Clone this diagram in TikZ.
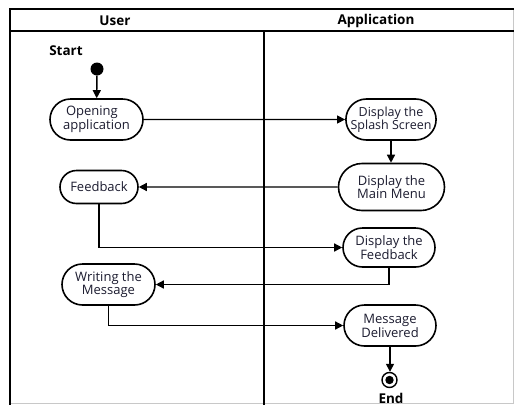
\documentclass[tikz,border=0pt]{standalone}
\usepackage{fontspec}
\setmainfont{Open Sans}
\usetikzlibrary{arrows.meta,shapes.misc}
\definecolor{txt}{RGB}{28,28,48}
\definecolor{edge}{RGB}{200,200,200}
\begin{document}
\begin{tikzpicture}[x=1pt,y=-1pt,
  lane/.style={line width=2.6pt,black},
  thin/.style={line width=0.8pt,edge},
  act/.style={rounded rectangle,draw=black,line width=1.6pt,fill=white,
    align=center,inner sep=0pt,text=txt,
    font=\fontsize{13}{12.5}\selectfont},
  flow/.style={line width=1.4pt,-{Triangle[length=8pt,width=8pt]}},
  lbl/.style={font=\bfseries\fontsize{13.5}{14}\selectfont,text=black}]
\useasboundingbox (0,0) rectangle (514,405);

% swimlane frame
\draw[thin] (513,9) -- (513,403) -- (10,403);
\draw[lane] (10,9) -- (514,9);
\draw[lane] (10,31) -- (514,31);
\draw[lane] (10,8) -- (10,405);
\draw[lane] (264,31) -- (264,405);
\node[lbl] (hUser) at (115,21) {User};
\node[lbl] (hApp) at (376,21) {Application};

% start
\node[lbl] (startlbl) at (66,51) {Start};
\node[circle,fill=black,minimum size=13pt,inner sep=0pt] (start) at (97,69) {};

% activities
\node[act,minimum width=93pt,minimum height=41pt,align=left] (open) at (96.5,119.5) {\hspace*{3pt}Opening\\application};
\node[act,minimum width=87pt,minimum height=41pt,font=\fontsize{12.5}{12}\selectfont] (splash) at (391,119.5) {Display the\\Splash Screen};
\node[act,minimum width=106pt,minimum height=47pt] (menu) at (391.5,187) {Display the\\Main Menu};
\node[act,minimum width=78pt,minimum height=33pt] (fb) at (99,187) {Feedback};
\node[act,minimum width=92pt,minimum height=39pt] (dfb) at (389,247.5) {Display the\\Feedback};
\node[act,minimum width=93pt,minimum height=41pt] (write) at (108.5,284.5) {Writing the\\Message};
\node[act,minimum width=92pt,minimum height=41pt] (msg) at (390,325.5) {Message\\Delivered};

% end
\node[circle,draw=black,line width=1.4pt,fill=white,minimum size=15pt,inner sep=0pt] (final) at (389.5,380) {};
\fill[black] (final.center) circle (4.2pt);
\node[lbl,anchor=base] (endlbl) at (391,403) {End};

% control flow
\draw[flow] (start) -- (open);
\draw[flow] (open) -- (splash);
\draw[flow] (splash.south) -- (splash.south |- menu.north);
\draw[flow] (menu) -- (fb);
\draw[flow] (fb.south) |- (dfb.west);
\draw[flow] (dfb.south) |- (write.east);
\draw[flow] (write.south) |- (msg.west);
\draw[flow] (msg.south) -- (msg.south |- final.north);
\end{tikzpicture}
\end{document}
